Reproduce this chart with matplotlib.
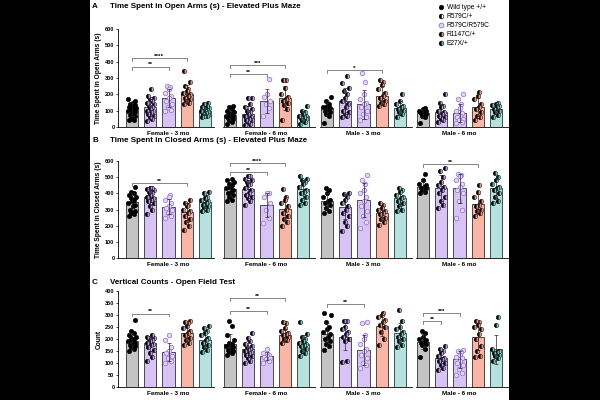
import numpy as np
import matplotlib
matplotlib.use('Agg')
import matplotlib.pyplot as plt
from matplotlib.lines import Line2D
from matplotlib.patches import Rectangle

plt.rcParams['font.family'] = ['Liberation Sans', 'DejaVu Sans']

# ---------------- data ----------------
genotypes = ["Wild type +/+", "R579C/+", "R579C/R579C", "R1147C/+", "E27X/+"]
groups = ["Female - 3 mo", "Female - 6 mo", "Male - 3 mo", "Male - 6 mo"]

# Panel A: Time spent in open arms (s)
A_MEANS = [[107, 120, 175, 200, 100], [75, 78, 160, 180, 65],
           [116, 160, 140, 192, 116], [86, 92, 86, 122, 110]]
A_F3 = [[170, 160, 150, 140, 135, 130, 125, 120, 115, 110, 105, 100, 95, 90, 85, 75, 65, 55, 45, 40],
        [230, 190, 180, 170, 160, 150, 140, 130, 120, 110, 100, 95, 90, 80, 70, 60, 50, 35],
        [250, 245, 235, 210, 190, 175, 160, 140, 120, 105, 100],
        [340, 275, 250, 235, 220, 210, 200, 190, 180, 170, 160, 150, 140],
        [145, 140, 130, 120, 115, 110, 105, 100, 95, 90, 85, 80, 75, 70, 65, 60]]
A_F6 = [[130, 120, 110, 100, 90, 85, 80, 75, 70, 65, 60, 55, 50, 40, 30, 20],
        [180, 178, 140, 120, 110, 100, 90, 80, 70, 60, 50, 45, 40, 30, 20, 10],
        [295, 200, 185, 160, 140, 115, 70],
        [290, 288, 240, 200, 185, 170, 160, 150, 135, 110, 45],
        [130, 100, 90, 80, 70, 65, 60, 55, 50, 40, 30, 20]]
A_M3 = [[185, 160, 140, 130, 120, 115, 110, 100, 90, 80, 70, 25],
        [310, 270, 240, 220, 200, 175, 160, 140, 120, 100, 90, 80, 70, 60],
        [330, 275, 200, 170, 150, 140, 120, 100, 80, 60, 45],
        [290, 275, 260, 230, 210, 190, 175, 160, 150, 140, 130],
        [205, 160, 140, 130, 120, 110, 100, 90, 80, 60]]
A_M6 = [[115, 110, 100, 95, 90, 85, 80, 70, 60, 25],
        [205, 150, 130, 120, 100, 90, 80, 70, 60, 50, 40, 30],
        [200, 170, 140, 115, 100, 85, 70, 60, 50, 40, 30, 25],
        [215, 190, 170, 140, 120, 110, 90, 70, 60, 45],
        [145, 140, 135, 130, 120, 110, 100, 90, 75, 60]]
A_SIG = [(0, 0, 2, 370, '**'), (0, 0, 3, 421, '****'), (1, 0, 2, 324, '**'),
         (1, 0, 3, 380, '***'), (2, 0, 3, 349, '*')]

# Panel B: Time spent in closed arms (s)
B_MEANS = [[348, 378, 318, 282, 345], [427, 427, 329, 304, 427],
           [353, 318, 360, 277, 370], [442, 432, 432, 333, 432]]
B_F3 = [[440, 410, 400, 390, 380, 370, 360, 350, 340, 330, 320, 300, 290, 280, 270, 260],
        [435, 430, 425, 420, 410, 400, 390, 380, 370, 360, 350, 340, 320, 300, 270],
        [390, 380, 360, 340, 320, 310, 300, 280, 260, 250],
        [360, 340, 330, 320, 300, 290, 280, 260, 240, 220, 200, 175],
        [410, 400, 380, 370, 360, 350, 340, 330, 320, 310, 300, 290]]
B_F6 = [[490, 480, 470, 460, 450, 440, 430, 420, 410, 400, 390, 380, 360, 350],
        [510, 505, 490, 480, 470, 460, 450, 430, 420, 400, 390, 380, 370, 350, 330],
        [405, 400, 380, 340, 300, 250, 215],
        [425, 380, 360, 340, 320, 300, 280, 260, 240, 220, 200],
        [505, 490, 480, 470, 460, 440, 420, 410, 400, 380, 360, 340, 330]]
B_M3 = [[435, 420, 400, 380, 360, 350, 340, 330, 310, 290, 280],
        [405, 395, 380, 360, 340, 320, 300, 280, 260, 220, 200, 170],
        [515, 480, 460, 420, 400, 380, 350, 320, 290, 260, 220, 185],
        [340, 330, 310, 300, 290, 280, 270, 250, 240, 220, 205],
        [435, 420, 410, 390, 380, 370, 350, 340, 320, 300, 290]]
B_M6 = [[520, 480, 460, 450, 440, 435, 430, 420, 410, 400],
        [555, 540, 500, 470, 450, 440, 420, 400, 380, 350, 330, 310],
        [520, 515, 510, 480, 460, 440, 420, 400, 350, 300, 250],
        [450, 410, 380, 350, 330, 320, 300, 290, 280, 260],
        [525, 500, 480, 460, 440, 430, 420, 400, 380, 350, 340]]
B_SIG = [(0, 0, 3, 462, '**'), (1, 0, 2, 534, '**'), (1, 0, 3, 590, '****'),
         (3, 0, 3, 580, '**')]

# Panel C: Vertical counts
C_MEANS = [[193, 182, 145, 225, 197], [180, 157, 128, 215, 180],
           [219, 210, 154, 255, 223], [189, 120, 116, 210, 157]]
C_F3 = [[280, 235, 225, 215, 210, 205, 200, 195, 190, 185, 180, 175, 170, 165, 160, 150],
        [215, 210, 205, 200, 195, 190, 185, 180, 175, 165, 155, 140, 125, 110],
        [215, 195, 165, 150, 140, 130, 120, 110, 100],
        [275, 270, 265, 255, 245, 235, 225, 215, 205, 195, 185, 175],
        [255, 245, 235, 225, 215, 205, 195, 185, 175, 165, 155, 145]]
C_F6 = [[275, 255, 215, 195, 185, 180, 175, 170, 165, 160, 155, 150, 145, 140, 135],
        [225, 205, 190, 180, 170, 165, 160, 155, 150, 145, 140, 135, 130, 120, 110, 100],
        [158, 140, 135, 130, 125, 120, 115, 110, 100],
        [272, 265, 245, 235, 225, 220, 215, 210, 200, 195, 185],
        [270, 220, 210, 200, 190, 185, 180, 175, 170, 160, 150, 140, 130]]
C_M3 = [[310, 300, 270, 250, 240, 230, 220, 210, 200, 190, 180, 170, 155],
        [275, 275, 250, 240, 230, 220, 210, 200, 190, 110, 105],
        [270, 265, 215, 200, 180, 160, 150, 135, 120, 100, 90, 80],
        [310, 300, 290, 280, 270, 260, 250, 230, 200, 175],
        [320, 275, 250, 240, 230, 220, 210, 200, 190, 175, 165]]
C_M6 = [[235, 225, 210, 200, 195, 190, 185, 180, 175, 160, 125],
        [170, 160, 150, 140, 130, 120, 115, 110, 100, 90, 80, 70],
        [155, 150, 145, 135, 125, 120, 110, 100, 90, 75, 60, 50],
        [275, 270, 260, 250, 240, 220, 200, 170, 150, 130, 125],
        [290, 260, 160, 150, 145, 140, 135, 130, 120, 110]]
C_SIG = [(0, 0, 2, 306, '**'), (1, 0, 2, 317, '**'), (1, 0, 3, 372, '**'),
         (2, 0, 2, 345, '**'), (3, 0, 1, 276, '**'), (3, 0, 2, 309, '***')]

# ---------------- style ----------------
BAR_COLORS = ['#c4c4c4', '#d8c4f4', '#d8c4f4', '#f9b5a5', '#b5e2de']
ALT_COLORS = [None, '#b497e6', None, '#ef8f7b', '#6cc4bd']
HOMO_FACE, HOMO_EDGE = '#e3d3fb', '#9272d0'

W, H = 600, 400
GROUP_PX = [(118, 214), (223, 315), (320, 412), (416, 508)]
FIRST_CENTER = [132, 230, 327, 423]
SP = 18.25
JIT = [-0.17, 0.12, -0.04, 0.19, -0.12, 0.05, 0.16, -0.2, 0.0, 0.09, -0.08, 0.2]

fig = plt.figure(figsize=(6, 4), dpi=100, facecolor='black')
fig.patches.append(Rectangle((90 / W, 0), (509 - 90) / W, 1, transform=fig.transFigure,
                             facecolor='white', edgecolor='none', zorder=-5))

FS_TICK = 4.0
FS_LAB = 4.6
MS = 3.3


def draw_row(top, bottom, data, means, ymax, ystep, ylabel, sigs, letter, title, title_y):
    axes = []
    for g in range(4):
        L, R = GROUP_PX[g]
        c0 = FIRST_CENTER[g]
        ax = fig.add_axes([L / W, 1 - bottom / H, (R - L) / W, (bottom - top) / H])
        ax.set_facecolor('none')
        ax.set_xlim((L - c0) / SP, (R - c0) / SP)
        ax.set_ylim(0, ymax)
        for s in ['top', 'right']:
            ax.spines[s].set_visible(False)
        ax.spines['bottom'].set_linewidth(0.6)
        ax.spines['left'].set_linewidth(0.6)
        ax.set_xticks([])
        if g == 0:
            ax.set_yticks(np.arange(0, ymax + 1, ystep))
            ax.tick_params(axis='y', length=1.6, width=0.5, pad=1, labelsize=FS_TICK)
            for t in ax.get_yticklabels():
                t.set_fontweight('bold')
        else:
            ax.spines['left'].set_visible(False)
            ax.set_yticks([])
        pts_all = data[g]
        for i in range(5):
            vals = np.array(pts_all[i], dtype=float)
            m = means[g][i]
            sd = np.std(vals, ddof=1)
            ax.bar(i, m, width=0.66, color=BAR_COLORS[i], edgecolor='#222222',
                   linewidth=0.55, zorder=1)
            order = np.argsort(vals)
            xs = np.empty(len(vals))
            for k, idx in enumerate(order):
                xs[idx] = i + JIT[k % len(JIT)]
            if i == 0:
                ax.plot(xs, vals, 'o', ms=MS, mfc='black', mec='black', mew=0.3,
                        zorder=2, clip_on=False)
            elif i == 2:
                ax.plot(xs, vals, 'o', ms=MS, mfc=HOMO_FACE, mec=HOMO_EDGE, mew=0.5,
                        zorder=2, clip_on=False)
            else:
                ax.plot(xs, vals, 'o', ms=MS, fillstyle='left', mfc='black',
                        mfcalt=ALT_COLORS[i], mec='black', mew=0.3, zorder=2, clip_on=False)
            ax.errorbar(i, m, yerr=sd, fmt='none', ecolor='#222222', elinewidth=0.5,
                        capsize=1.5, capthick=0.5, zorder=3)
        ax.annotate(groups[g], xy=(2, 0), xycoords=('data', 'axes fraction'),
                    xytext=(0, -4.4), textcoords='offset points', ha='center', va='center',
                    fontsize=FS_LAB, fontweight='bold')
        axes.append(ax)
    for (g, i, j, y, lab) in sigs:
        ax = axes[g]
        tick = ymax * 0.03
        ax.plot([i, i, j, j], [y - tick, y, y, y - tick], color='#555555', lw=0.5,
                clip_on=False, zorder=4)
        ax.annotate(lab, xy=((i + j) / 2, y), xytext=(0, -0.6), textcoords='offset points',
                    ha='center', va='bottom', fontsize=4.6, fontweight='bold', clip_on=False)
    fig.text(99 / W, 1 - (top + bottom) / 2 / H, ylabel, rotation=90, ha='center',
             va='center', fontsize=4.8, fontweight='bold')
    fig.text(95 / W, 1 - title_y / H, letter, ha='center', va='center', fontsize=5.8,
             fontweight='bold')
    fig.text(110 / W, 1 - title_y / H, title, ha='left', va='center', fontsize=5.8,
             fontweight='bold')


draw_row(29, 127, [A_F3, A_F6, A_M3, A_M6], A_MEANS, 600, 100,
         'Time Spent in Open Arms (s)', A_SIG, 'A',
         'Time Spent in Open Arms (s) - Elevated Plus Maze', 6)
draw_row(161, 258, [B_F3, B_F6, B_M3, B_M6], B_MEANS, 600, 100,
         'Time Spent in Closed Arms (s)', B_SIG, 'B',
         'Time Spent in Closed Arms (s) - Elevated Plus Maze', 140)
draw_row(291, 387, [C_F3, C_F6, C_M3, C_M6], C_MEANS, 400, 50,
         'Count', C_SIG, 'C', 'Vertical Counts - Open Field Test', 282)

handles = [
    Line2D([], [], ls='none', marker='o', ms=3.4, mfc='black', mec='black', mew=0.3),
    Line2D([], [], ls='none', marker='o', ms=3.4, fillstyle='left', mfc='black',
           mfcalt='white', mec='black', mew=0.4),
    Line2D([], [], ls='none', marker='o', ms=3.4, mfc=HOMO_FACE, mec=HOMO_EDGE, mew=0.6),
    Line2D([], [], ls='none', marker='o', ms=3.4, fillstyle='left', mfc='black',
           mfcalt=ALT_COLORS[3], mec='black', mew=0.4),
    Line2D([], [], ls='none', marker='o', ms=3.4, fillstyle='left', mfc='black',
           mfcalt=ALT_COLORS[4], mec='black', mew=0.4),
]
fig.legend(handles, genotypes, loc='upper left', bbox_to_anchor=(437 / W, 1 - 2.5 / H),
           frameon=False, fontsize=4.8, handlelength=0.9, handletextpad=0.35,
           labelspacing=0.3, borderaxespad=0, borderpad=0.2)

fig.savefig('out.png', dpi=100, facecolor=fig.get_facecolor())
